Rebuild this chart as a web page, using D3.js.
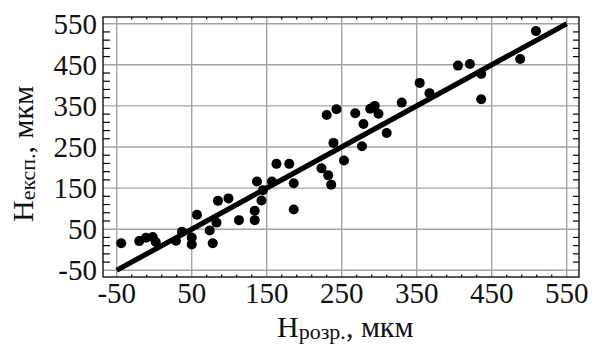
<!DOCTYPE html>
<html><head><meta charset="utf-8">
<script src="https://cdn.jsdelivr.net/npm/d3@7"></script>
<style>body{margin:0;background:#fff}</style>
</head><body>
<svg id="c" width="595" height="349"></svg>
<script>
const xTicks = [-50, 50, 150, 250, 350, 450, 550];
const yTicks = [-50, 50, 150, 250, 350, 450, 550];
const xValues = [-44, -20, -11, -2, 2, 29, 37, 50, 50, 57, 74, 78, 83, 85, 99, 113, 134, 134, 137, 143, 145, 157, 163, 180, 186, 186, 223, 232, 236, 230, 243, 239, 253, 268, 277, 279, 288, 294, 299, 310, 330, 354, 367, 405, 421, 436, 436, 488, 509];
const yValues = [16, 21, 29, 31, 19, 22, 44, 30, 13, 85, 47, 16, 66, 119, 125, 72, 95, 72, 166, 120, 145, 166, 209, 209, 162, 98, 198, 181, 158, 328, 342, 260, 217, 332, 252, 306, 343, 350, 331, 284, 358, 406, 381, 448, 452, 428, 366, 464, 532];
const fitX = [-50, 550];
const fitY = [-50, 550];

const svg = d3.select("#c");
const L = 103, R = 579, T = 17, B = 277;
const x = d3.scaleLinear().domain([-68.3, 566.4]).range([L, R]);
const y = d3.scaleLinear().domain([-66.3, 566.3]).range([B, T]);
const font = "'Liberation Serif', 'Times New Roman', serif";

// gridlines
const grid = svg.append("g").attr("stroke", "#a3a3a3").attr("stroke-width", 1.4);
grid.selectAll("line.vx").data(xTicks).join("line")
  .attr("x1", d => x(d)).attr("x2", d => x(d)).attr("y1", T).attr("y2", B);
grid.selectAll("line.hy").data(yTicks).join("line")
  .attr("y1", d => y(d)).attr("y2", d => y(d)).attr("x1", L).attr("x2", R);

// minor ticks
const minor = d3.range(-50, 551, 20).filter(v => (v + 50) % 100 !== 0);
const tk = svg.append("g").attr("stroke", "#000").attr("stroke-width", 1.2);
minor.forEach(v => {
  tk.append("line").attr("x1", L).attr("x2", L + 7).attr("y1", y(v)).attr("y2", y(v));
  tk.append("line").attr("x1", R).attr("x2", R - 6).attr("y1", y(v)).attr("y2", y(v));
  tk.append("line").attr("y1", T).attr("y2", T + 2.5).attr("x1", x(v)).attr("x2", x(v));
  tk.append("line").attr("y1", B).attr("y2", B - 2.5).attr("x1", x(v)).attr("x2", x(v));
});

// frame
svg.append("rect").attr("x", L).attr("y", T).attr("width", R - L).attr("height", B - T)
  .attr("fill", "none").attr("stroke", "#000").attr("stroke-width", 1.3);

// fit line
svg.append("line")
  .attr("x1", x(fitX[0])).attr("y1", y(fitY[0]))
  .attr("x2", x(fitX[1])).attr("y2", y(fitY[1]))
  .attr("stroke", "#000").attr("stroke-width", 5.2);

// points
svg.append("g").selectAll("circle").data(xValues.map((v, i) => [v, yValues[i]])).join("circle")
  .attr("cx", d => x(d[0])).attr("cy", d => y(d[1])).attr("r", 5).attr("fill", "#000");

// tick labels
svg.append("g").selectAll("text").data(yTicks).join("text")
  .attr("x", 97).attr("y", d => y(d)).attr("dy", "0.34em")
  .attr("text-anchor", "end").attr("font-family", font).attr("font-size", 29)
  .attr("fill", "#111").text(d => d);
svg.append("g").selectAll("text").data(xTicks).join("text")
  .attr("x", d => x(d)).attr("y", 303)
  .attr("text-anchor", "middle").attr("font-family", font).attr("font-size", 29)
  .attr("fill", "#111").text(d => d);

// axis titles
const xt = svg.append("text").attr("x", 277).attr("y", 337)
  .attr("font-family", font).attr("font-size", 30).attr("fill", "#111");
xt.append("tspan").text("Н");
xt.append("tspan").attr("font-size", 22).attr("dy", 2).text("розр.");
xt.append("tspan").attr("dy", -2).text(", мкм");

const yt = svg.append("text").attr("transform", "translate(33,222) rotate(-90)")
  .attr("font-family", font).attr("font-size", 30).attr("fill", "#111");
yt.append("tspan").text("Н");
yt.append("tspan").attr("font-size", 22).attr("dy", 2).text("експ.");
yt.append("tspan").attr("dy", -2).text(", мкм");
</script>
</body></html>
